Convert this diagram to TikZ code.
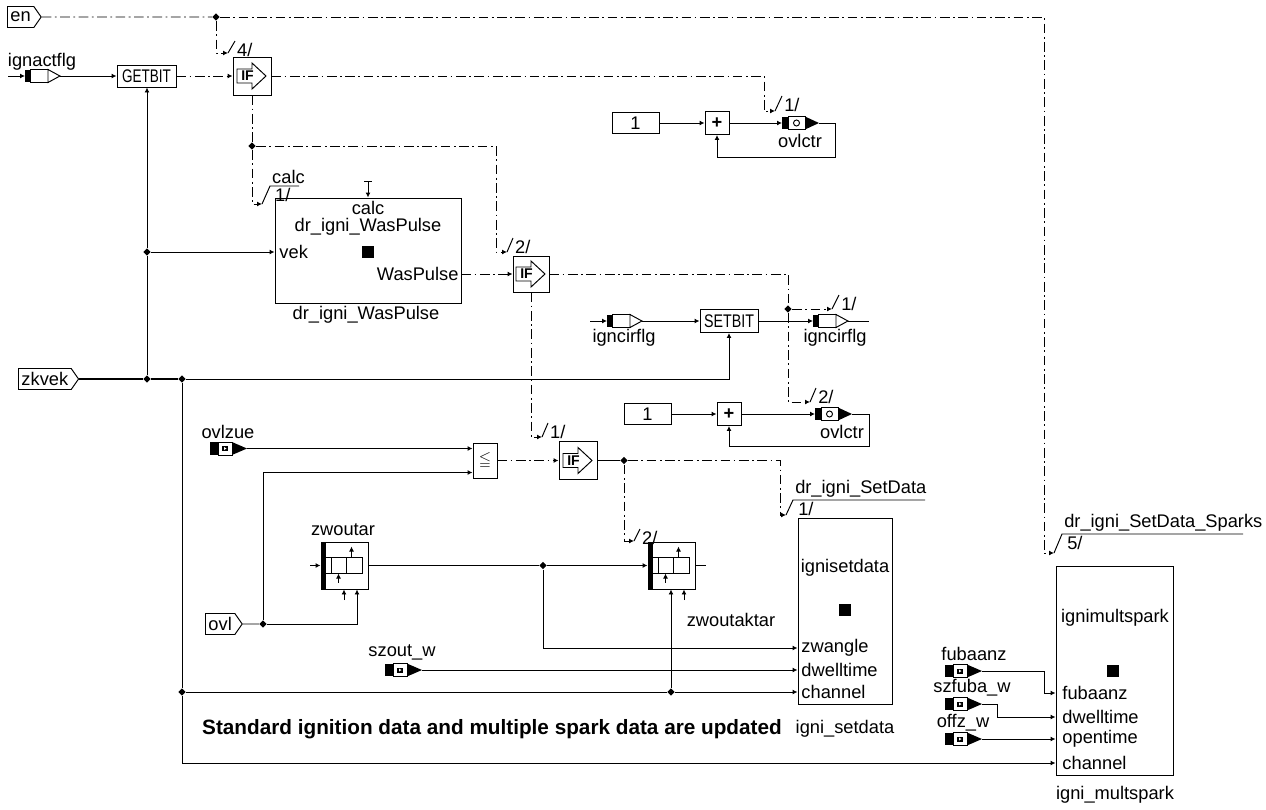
\documentclass[tikz,border=0pt]{standalone}
\usepackage{fontspec}
\setmainfont{Liberation Sans}
\usepackage{amssymb}
\usepackage{graphicx}
\usepackage{tikz}
\usetikzlibrary{positioning,arrows.meta,calc,shapes.geometric,shapes.symbols}

\begin{document}
\begin{tikzpicture}[
  x=.2mm, y=-.2mm, >={Latex[length=1mm,width=1mm]}, line width=.55pt,
  every node/.style={font=\fontsize{10.4}{12}\selectfont},
  ctl/.style={dash pattern=on 5.5pt off 2pt on 1pt off 2pt},
  blk/.style={draw,inner sep=0pt},
  ifb/.style={draw,minimum width=7.6mm,minimum height=7.6mm,inner sep=0pt},
  jd/.style={diamond,fill,inner sep=0pt,minimum size=1.5mm},
  tagbox/.style={signal,signal to=east,signal pointer angle=110,draw,inner xsep=.6mm,inner ysep=.3mm,minimum height=4.2mm,anchor=west},
  msgi/.style={inner sep=0pt,minimum width=6.8mm,minimum height=2.4mm,anchor=west},
  msgo/.style={inner sep=0pt,minimum width=7.2mm,minimum height=2.4mm,anchor=west},
  msgr/.style={inner sep=0pt,minimum width=7.2mm,minimum height=2.4mm,anchor=west},
  ladder/.style={draw,minimum width=9.4mm,minimum height=9.4mm,inner sep=0pt},
  sq/.style={fill,minimum size=2.4mm,inner sep=0pt},
  lab/.style={inner sep=1pt},
  port/.style={anchor=west,inner sep=0pt}
]
  \useasboundingbox (0,0) rectangle (1266,809);
  % top row
  \node[tagbox] (en) at (7,17) {en};
  \node[jd] (jen) at (216,17) {};
  \node[msgi] (ia) at (25,76) {};
  \node (ial) at (42,62) {ignactflg};
  \coordinate (iafree) at (8,76);
  \node[blk,minimum width=11.8mm,minimum height=4.4mm] (gb) at (146.5,76) {\scalebox{.74}[1]{GETBIT}};
  \node[ifb] (if1) at (252,76) {};
  \coordinate (t4) at (228,53);
  \coordinate (to1) at (775,111);
  \node[blk,minimum width=9.4mm,minimum height=4.2mm] (c1) at (635.5,123) {1};
  \node[blk,minimum width=4.8mm,minimum height=4.6mm] (p1) at (717,123) {\textbf{+}};
  \node[msgo] (o1) at (782,123) {};
  \node (o1l) at (800,141) {ovlctr};
  \node[jd] (jif1) at (252,146) {};
  \coordinate (tcalc) at (262,204);
  \coordinate (t2a) at (507,252);
  % dr_igni_WasPulse
  \node[blk,minimum width=37.2mm,minimum height=21mm] (wp) at (368,250.5) {};
  \coordinate (wpt) at (368,181);
  \node[inner sep=0pt] (wpc) at (368,208) {calc};
  \node[inner sep=0pt] (wpn) at (368,227) {dr\_igni\_WasPulse};
  \node[port] (wpv) at (279,252) {vek};
  \node[sq] (wps) at (368,252) {};
  \node[anchor=east,inner sep=0pt] (wpo) at (459,274) {WasPulse};
  \node (wpl) at (366,315) {dr\_igni\_WasPulse};
  \node[ifb,minimum width=7.2mm,minimum height=7.2mm] (if2) at (531,274) {};
  % zkvek and igncirflg
  \node[tagbox] (zk) at (18,379) {zkvek};
  \node[jd] (jv) at (147,252) {};
  \node[jd] (jz1) at (147,379) {};
  \node[jd] (jz2) at (182,379) {};
  \coordinate (cifree) at (590,321);
  \node[msgi] (ci) at (607,321) {};
  \node (cil) at (624,338) {igncirflg};
  \node[blk,minimum width=11.6mm,minimum height=4.6mm] (sb) at (729,321) {\scalebox{.78}[1]{SETBIT}};
  \node[msgi] (co) at (813,321) {};
  \node (col) at (835,338) {igncirflg};
  \coordinate (coend) at (869,321);
  \node[jd] (jif2) at (788,309) {};
  \coordinate (tci) at (832,309);
  \coordinate (to2) at (810,402);
  \node[blk,minimum width=9.4mm,minimum height=4.2mm] (c2) at (647.5,414) {1};
  \node[blk,minimum width=4.8mm,minimum height=4.6mm] (p2) at (729,414) {\textbf{+}};
  \node[msgo] (o2) at (815,414) {};
  \node (o2l) at (842,432) {ovlctr};
  % ovlzue, ovl, zwoutar
  \coordinate (t1c) at (542,437);
  \node (ozl) at (228,432) {ovlzue};
  \node[msgr] (oz) at (210,448.5) {};
  \node[blk,minimum width=4.8mm,minimum height=7mm,font=\fontsize{9}{9}\selectfont] (le) at (485,460.5) {$\leqq$};
  \node[ifb] (if3) at (578,460.5) {};
  \node[jd] (jif3) at (624,460.5) {};
  \coordinate (tsd) at (786,515);
  \coordinate (t2b) at (634,541);
  \node (zw1l) at (343,530) {zwoutar};
  \node[ladder] (zw1) at (344.5,565.5) {};
  \coordinate (zw1in) at (310,565.5);
  \coordinate (zw1a) at (344,600);
  \node[jd] (jzl) at (543,565.5) {};
  \node[ladder] (zw2) at (671.5,565.5) {};
  \coordinate (zw2out) at (706,565.5);
  \coordinate (zw2a) at (684,600);
  \node (zw2l) at (731,620) {zwoutaktar};
  \node[tagbox] (ovl) at (205,624) {ovl};
  \node[jd] (jovl) at (263,624) {};
  \node (szl) at (402,652) {szout\_w};
  \node[msgr] (sz) at (385,670) {};
  % igni_setdata
  \node[blk,minimum width=18.8mm,minimum height=37.2mm] (sd) at (845,611) {};
  \node (sdn) at (845,568) {ignisetdata};
  \node[sq] (sds) at (845,610) {};
  \node[port] (pzw) at (801,648) {zwangle};
  \node[port] (pdw) at (801,670) {dwelltime};
  \node[port] (pch) at (801,692) {channel};
  \node (sdl) at (845,729) {igni\_setdata};
  \node[jd] (jch) at (182,692) {};
  \node[jd] (jzw) at (671,692) {};
  \node[font=\fontsize{11.8}{14}\selectfont\bfseries] (note) at (492,729) {Standard ignition data and multiple spark data are updated};
  % igni_multspark
  \node[blk,minimum width=23.4mm,minimum height=41.8mm] (ms) at (1114.5,670.5) {};
  \node (msn) at (1115,618) {ignimultspark};
  \node[sq] (mss) at (1113,671) {};
  \node[port] (pfb) at (1062,693) {fubaanz};
  \node[port] (pdw2) at (1062,717) {dwelltime};
  \node[port] (pop) at (1062,739) {opentime};
  \node[port] (pch2) at (1062,763) {channel};
  \node (msl) at (1115,795) {igni\_multspark};
  \coordinate (tsp) at (1054,553);
  \node (fbl) at (974,654) {fubaanz};
  \node[msgr] (fb) at (945,671) {};
  \node (sfl) at (972,688) {szfuba\_w};
  \node[msgr] (sf) at (945,704) {};
  \node (ofl) at (963,723) {offz\_w};
  \node[msgr] (of) at (945,739) {};

  % symbols
  \foreach \m in {ia,ci,co}{
    \fill (\m.south west) rectangle ([xshift=1mm]\m.north west);
    \draw[fill=white] ([xshift=1mm]\m.south west) rectangle ([xshift=4.6mm]\m.north west);
    \draw[fill=white] ([xshift=4.6mm]\m.north west) -- (\m.east) -- ([xshift=4.6mm]\m.south west) -- cycle;
  }
  \foreach \m in {o1,o2}{
    \fill (\m.south west) rectangle ([xshift=1.2mm]\m.north west);
    \draw[fill=white] ([xshift=1.2mm]\m.south west) rectangle ([xshift=4.6mm]\m.north west);
    \fill ([xshift=4.6mm]\m.north west) -- (\m.east) -- ([xshift=4.6mm]\m.south west) -- cycle;
    \draw ([xshift=2.9mm]\m.west) circle[radius=.6mm];
  }
  \foreach \m in {oz,sz,fb,sf,of}{
    \fill (\m.south west) rectangle ([xshift=1.6mm]\m.north west);
    \draw[fill=white] ([xshift=1.6mm]\m.south west) rectangle ([xshift=4.4mm]\m.north west);
    \fill ([xshift=4.4mm]\m.north west) -- (\m.east) -- ([xshift=4.4mm]\m.south west) -- cycle;
    \fill ([xshift=2.4mm,yshift=-.5mm]\m.west) rectangle ++(1.2mm,1mm);
    \fill[white] ([xshift=2.8mm,yshift=-.3mm]\m.west) -- ++(.5mm,.3mm) -- ++(-.5mm,.3mm) -- cycle;
  }
  \foreach \z in {zw1,zw2}{
    \fill (\z.north west) rectangle ([xshift=1mm]\z.south west);
    \draw ([shift={(1mm,-3.2mm)}]\z.north west) -- ++(7.4mm,0mm) ([shift={(1mm,-6.4mm)}]\z.north west) -- ++(7.4mm,0mm);
    \foreach \xx in {2.2mm,5.2mm,8.4mm}
      \draw ([shift={(\xx,-3.2mm)}]\z.north west) -- ++(0mm,-3.2mm);
    \draw[->] ([shift={(6.2mm,-3.2mm)}]\z.north west) -- ++(0mm,2.2mm);
    \draw[->] ([shift={(3.6mm,-8.2mm)}]\z.north west) -- ++(0mm,1.8mm);
  }
  \foreach \i in {if1,if2,if3}{
    \draw ([shift={(-3mm,1.4mm)}]\i.center) -- ++(3mm,0mm) -- ++(0mm,1.2mm) -- ++(2.8mm,-2.6mm) -- ++(-2.8mm,-2.6mm) -- ++(0mm,1.2mm) -- ++(-3mm,0mm) -- cycle;
    \node[font=\fontsize{8}{8}\selectfont\bfseries,inner sep=0pt] (\i-t) at ([xshift=-.9mm]\i.center) {IF};
  }

  % enable
  \draw[ctl] (en) -- (jen);
  \draw[ctl,->] (jen) -| ([xshift=-2mm]tsp) -- (tsp);
  \draw[ctl,->] (jen) |- (t4);
  \draw (t4) -- ++(7,-12) node[lab,anchor=north west] (l4) {4/};
  % ignactflg
  \draw[->] (iafree) -- (ia);
  \draw[->] (ia) -- (gb);
  \draw[ctl,->] (gb) -- (if1);
  \draw[ctl,->] (if1) -| ([xshift=-2.2mm]to1) -- (to1);
  \draw (to1) -- ++(7,-15) node[lab,anchor=north west] (l1a) {1/};
  \draw[->] (c1) -- (p1);
  \draw[->] (p1) -- (o1);
  \draw[->] (o1.east) -- ++(17,0) -- ++(0,34) -| (p1.south);
  \draw[ctl] (if1) -- (jif1);
  \draw[ctl,->] (jif1) |- (tcalc);
  \draw (tcalc) -- ++(8,-18) coordinate (tct) -- ++(29,0);
  \node[lab,anchor=south west] (lcalc) at (tct) {calc};
  \node[lab,anchor=north west] (lcalc1) at ([xshift=.6mm]tct) {1/};
  \draw[ctl,->] (jif1) -| ([xshift=-2.2mm]t2a) -- (t2a);
  \draw (t2a) -- ++(6,-14) node[lab,anchor=north west] (l2a) {2/};
  % WasPulse
  \draw (wpt) ++(-4,0) -- ++(8,0);
  \draw[->] (wpt) -- (wp.north);
  \draw[->] (jv) -- (wp.west |- wpv);
  \draw[ctl,->] (wp.east |- wpo) -- (if2);
  % zkvek
  \draw[line width=1.1pt] (zk) -- (jz1) -- (jz2);
  \draw[->] (jz1) -- (jv) -- (jv |- gb.south);
  \draw[->] (jz2) -| (sb.south);
  \draw (jz2) -- (jch);
  \draw (jch) -- (jzw);
  \draw[->] (jzw) -- (sd.west |- pch);
  \draw[->] (jch) |- (ms.west |- pch2);
  \draw[->] (jzw) -- (jzw |- zw2.south);
  % igncirflg
  \draw[->] (cifree) -- (ci);
  \draw[->] (ci) -- (sb);
  \draw[->] (sb) -- (co);
  \draw (co) -- (coend);
  \draw[ctl] (if2) -| (jif2);
  \draw[ctl,->] (jif2) -- (tci);
  \draw (tci) -- ++(7,-14) node[lab,anchor=north west] (l1b) {1/};
  \draw[ctl,->] (jif2) |- (to2);
  \draw (to2) -- ++(6,-14) node[lab,anchor=north west] (l2b) {2/};
  \draw[->] (c2) -- (p2);
  \draw[->] (p2) -- (o2);
  \draw[->] (o2.east) -- ++(18,0) -- ++(0,32) -| (p2.south);
  % overload check
  \draw[ctl,->] (if2) |- (t1c);
  \draw (t1c) -- ++(6,-14) node[lab,anchor=north west] (l1c) {1/};
  \draw[->] (oz) -- ([yshift=2.4mm]le.west);
  \draw (ovl) -- (jovl);
  \draw[->] (jovl) |- ([yshift=-2.4mm]le.west);
  \draw[->] (jovl) -| ([xshift=2.5mm]zw1.south);
  \draw[ctl,->] (le) -- (if3);
  \draw (if3) -- (jif3);
  \draw[ctl,->] (jif3) -| ([xshift=-1.2mm]tsd) -- (tsd);
  \draw (tsd) -- ++(7,-15) coordinate (tsdt) -- ++(132,0);
  \node[lab,anchor=south west] (lsd) at (tsdt) {dr\_igni\_SetData};
  \node[lab,anchor=north west] (lsd1) at ([xshift=.6mm]tsdt) {1/};
  \draw[ctl,->] (jif3) |- (t2b);
  \draw (t2b) -- ++(6,-12) node[lab,anchor=north west] (l2c) {2/};
  % zwoutar
  \draw[->] (zw1in) -- (zw1);
  \draw (zw1) -- (jzl);
  \draw[->] (jzl) -- (zw2);
  \draw (zw2) -- (zw2out);
  \draw[->] (jzl) |- (sd.west |- pzw);
  \draw[->] (zw1a) -- (zw1a |- zw1.south);
  \draw[->] (zw2a) -- (zw2a |- zw2.south);
  \draw[->] (sz) -- (sd.west |- pdw);
  % multiple spark
  \draw (tsp) -- ++(8,-19) coordinate (tspt) -- ++(181,0);
  \node[lab,anchor=south west] (lsp) at (tspt) {dr\_igni\_SetData\_Sparks};
  \node[lab,anchor=north west] (lsp1) at ([xshift=.6mm]tspt) {5/};
  \draw[->] (fb.east) -- ++(63,0) |- (ms.west |- pfb);
  \draw[->] (sf.east) -- ++(16,0) |- (ms.west |- pdw2);
  \draw[->] (of) -- (ms.west |- pop);
\end{tikzpicture}
\end{document}
